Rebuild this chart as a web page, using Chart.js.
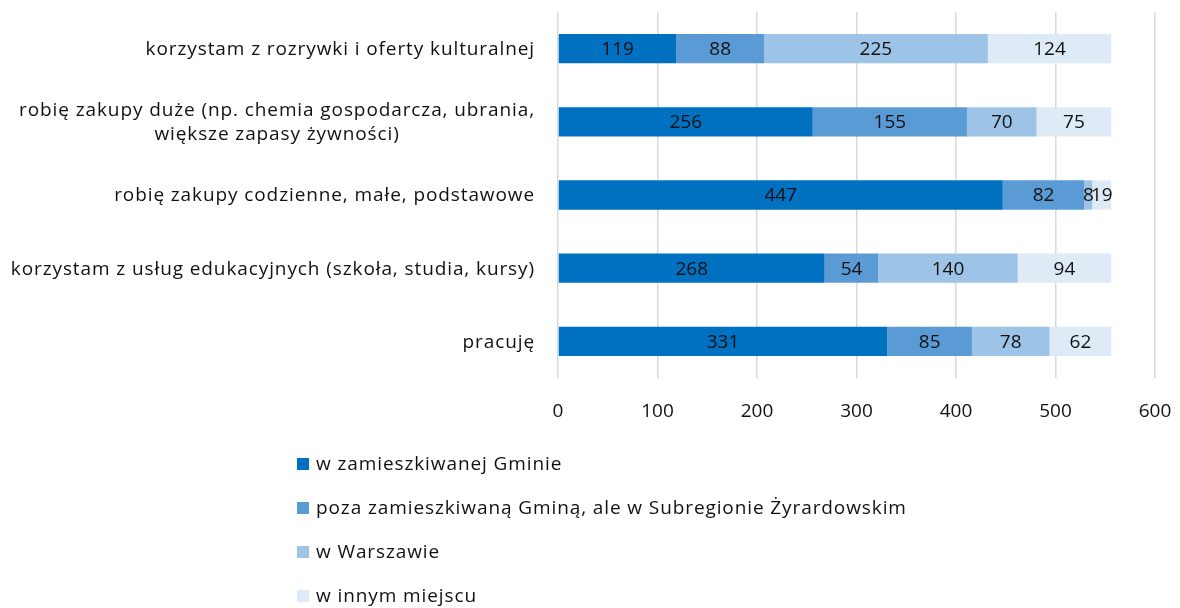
<!DOCTYPE html>
<html lang="pl">
<head>
<meta charset="utf-8">
<title>Miejsca aktywności mieszkańców</title>
<script src="https://cdn.jsdelivr.net/npm/chart.js@4.4.1/dist/chart.umd.min.js"></script>
<style>
  html, body { margin: 0; padding: 0; background: #ffffff; }
  #wrap { width: 1180px; height: 608px; position: relative; }
</style>
</head>
<body>
<div id="wrap"><canvas id="chart" width="1180" height="608"></canvas></div>
<script>
// Activities (each entry may span several lines)
const categories = [
  ["korzystam z rozrywki i oferty kulturalnej"],
  ["robię zakupy duże (np. chemia gospodarcza, ubrania,", "większe zapasy żywności)"],
  ["robię zakupy codzienne, małe, podstawowe"],
  ["korzystam z usług edukacyjnych (szkoła, studia, kursy)"],
  ["pracuję"]
];

const seriesNames = [
  "w zamieszkiwanej Gminie",
  "poza zamieszkiwaną Gminą, ale w Subregionie Żyrardowskim",
  "w Warszawie",
  "w innym miejscu"
];

const inMunicipality  = [119, 256, 447, 268, 331];
const inSubregion     = [88, 155, 82, 54, 85];
const inWarsaw        = [225, 70, 8, 140, 78];
const elsewhere       = [124, 75, 19, 94, 62];

const xTicks = [0, 100, 200, 300, 400, 500, 600];

const seriesColors = ["#0070C0", "#5B9BD5", "#9DC3E6", "#DEEBF7"];

const FONT = "'Open Sans', Lato, sans-serif";
const FONT_SIZE = 19;
const TEXT = "#111111";
const WORD_SPACING = "0.9px";

// Value labels centred on every bar segment
const valueLabels = {
  id: "valueLabels",
  afterDatasetsDraw(chart) {
    const ctx = chart.ctx;
    ctx.save();
    ctx.font = FONT_SIZE + "px " + FONT;
    ctx.fillStyle = TEXT;
    ctx.textAlign = "center";
    ctx.textBaseline = "middle";
    chart.data.datasets.forEach((ds, di) => {
      const meta = chart.getDatasetMeta(di);
      meta.data.forEach((bar, i) => {
        const c = bar.getCenterPoint();
        ctx.fillText(String(ds.data[i]), c.x, c.y + 1);
      });
    });
    ctx.restore();
  }
};

// Category labels: right-aligned, wrapped lines centred within their block
const categoryLabels = {
  id: "categoryLabels",
  afterDraw(chart) {
    const ctx = chart.ctx;
    const y = chart.scales.y;
    const right = chart.chartArea.left - 23;
    const lineH = 24;
    ctx.save();
    ctx.font = FONT_SIZE + "px " + FONT;
    ctx.letterSpacing = WORD_SPACING;
    ctx.fillStyle = TEXT;
    ctx.textBaseline = "middle";
    ctx.textAlign = "center";
    categories.forEach((lines, i) => {
      const cy = y.getPixelForValue(i) + 1;
      const w = Math.max(...lines.map(l => ctx.measureText(l).width));
      const cx = right - w / 2;
      const y0 = cy - (lines.length - 1) * lineH / 2;
      lines.forEach((l, k) => ctx.fillText(l, cx, y0 + k * lineH));
    });
    ctx.restore();
  }
};

// Vertical legend below the plot
const stackedLegend = {
  id: "stackedLegend",
  afterDraw(chart) {
    const ctx = chart.ctx;
    const x0 = 297, size = 12, top = 464, step = 44;
    ctx.save();
    ctx.font = FONT_SIZE + "px " + FONT;
    ctx.letterSpacing = WORD_SPACING;
    ctx.textAlign = "left";
    ctx.textBaseline = "middle";
    chart.data.datasets.forEach((ds, i) => {
      const cy = top + i * step;
      ctx.fillStyle = ds.backgroundColor;
      ctx.fillRect(x0, cy - size / 2, size, size);
      ctx.fillStyle = TEXT;
      ctx.fillText(ds.label, x0 + size + 7, cy + 1);
    });
    ctx.restore();
  }
};

const seriesValues = [inMunicipality, inSubregion, inWarsaw, elsewhere];

new Chart(document.getElementById("chart"), {
  type: "bar",
  data: {
    labels: categories.map(c => c.join(" ")),
    datasets: seriesValues.map((vals, i) => ({
      label: seriesNames[i],
      data: vals,
      backgroundColor: seriesColors[i],
      borderWidth: 0,
      barPercentage: 0.4,
      categoryPercentage: 1.0
    }))
  },
  options: {
    indexAxis: "y",
    responsive: false,
    animation: false,
    devicePixelRatio: 1,
    layout: { padding: { left: 558, right: 25, top: 12, bottom: 0 } },
    plugins: {
      legend: { display: false },
      tooltip: { enabled: false }
    },
    scales: {
      x: {
        stacked: true,
        min: xTicks[0],
        max: xTicks[xTicks.length - 1],
        afterBuildTicks(scale) { scale.ticks = xTicks.map(v => ({ value: v })); },
        afterFit(scale) {
          scale.height = 230;
          scale.paddingLeft = 0;
          scale.paddingRight = 0;
        },
        grid: { color: "#D9D9D9", lineWidth: 1.5, drawTicks: false },
        border: { display: false },
        ticks: {
          padding: 22,
          color: TEXT,
          font: { family: FONT, size: FONT_SIZE }
        }
      },
      y: {
        stacked: true,
        grid: { display: false, drawTicks: false },
        border: { display: false },
        ticks: { display: false }
      }
    }
  },
  plugins: [valueLabels, categoryLabels, stackedLegend]
});
</script>
</body>
</html>
